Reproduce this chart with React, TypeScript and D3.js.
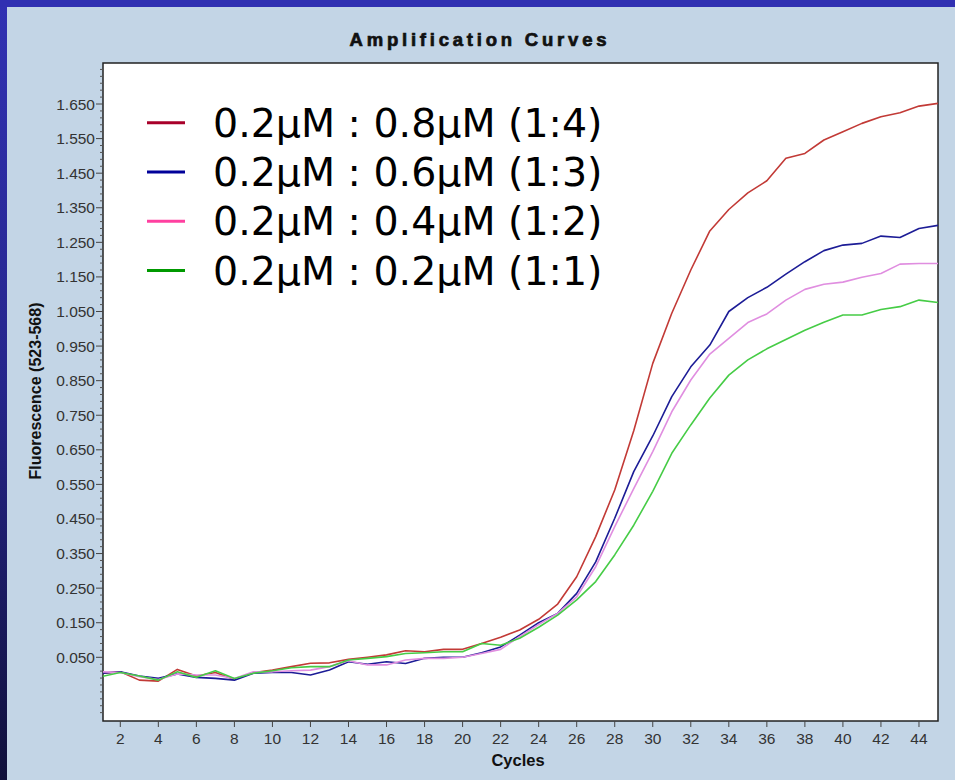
import React, { useEffect } from 'react';
import * as d3 from 'd3';

const cycles = [1,2,3,4,5,6,7,8,9,10,11,12,13,14,15,16,17,18,19,20,21,22,23,24,25,26,27,28,29,30,31,32,33,34,35,36,37,38,39,40,41,42,43,44,45];

const ratio14 = [0.004,0.008,-0.016,-0.019,0.015,-0.004,0.006,-0.014,0.006,0.013,0.023,0.033,0.034,0.044,0.050,0.057,0.069,0.066,0.073,0.073,0.090,0.108,0.129,0.160,0.204,0.283,0.399,0.534,0.705,0.900,1.045,1.170,1.283,1.345,1.393,1.428,1.493,1.507,1.546,1.570,1.594,1.613,1.625,1.644,1.652];
const ratio13 = [0.004,0.008,-0.004,-0.011,0.002,-0.008,-0.011,-0.016,0.004,0.006,0.006,-0.001,0.013,0.037,0.030,0.037,0.032,0.047,0.050,0.050,0.063,0.080,0.114,0.150,0.177,0.235,0.326,0.452,0.587,0.690,0.804,0.890,0.953,1.050,1.090,1.120,1.158,1.194,1.226,1.242,1.247,1.268,1.264,1.290,1.299];
const ratio12 = [0.008,0.006,-0.006,-0.014,0.002,-0.001,-0.001,-0.011,0.008,0.008,0.011,0.013,0.023,0.040,0.028,0.028,0.042,0.047,0.047,0.050,0.061,0.073,0.110,0.145,0.177,0.225,0.312,0.428,0.538,0.645,0.760,0.852,0.927,0.972,1.018,1.043,1.083,1.114,1.129,1.135,1.149,1.160,1.187,1.189,1.189];
const ratio11 = [-0.006,0.006,-0.004,-0.016,0.008,-0.008,0.011,-0.011,0.004,0.011,0.020,0.023,0.023,0.042,0.047,0.052,0.061,0.063,0.066,0.066,0.090,0.085,0.105,0.137,0.172,0.216,0.269,0.346,0.432,0.530,0.640,0.722,0.800,0.866,0.910,0.942,0.969,0.996,1.019,1.040,1.040,1.056,1.064,1.083,1.076];

const seriesNames = ['0.2μM : 0.8μM (1:4)', '0.2μM : 0.6μM (1:3)', '0.2μM : 0.4μM (1:2)', '0.2μM : 0.2μM (1:1)'];
const seriesValues = [ratio14, ratio13, ratio12, ratio11];
const curveColors = ['#c23a36', '#1c1c96', '#e08ee0', '#46cc46'];
const legendColors = ['#a8002a', '#000099', '#ff40a0', '#009900'];

const yTickValues = [0.05,0.15,0.25,0.35,0.45,0.55,0.65,0.75,0.85,0.95,1.05,1.15,1.25,1.35,1.45,1.55,1.65];
const yTickLabels = ['0.050','0.150','0.250','0.350','0.450','0.550','0.650','0.750','0.850','0.950','1.050','1.150','1.250','1.350','1.450','1.550','1.650'];
const xTickValues = [2,4,6,8,10,12,14,16,18,20,22,24,26,28,30,32,34,36,38,40,42,44];

const W = 955, H = 780;
const P = { left: 103, right: 938, top: 63, bottom: 721 };

export default function App() {
  useEffect(() => { document.body.style.margin = '0'; }, []);
  const x = d3.scaleLinear().domain([1.09, 45.0]).range([P.left, P.right]);
  const y = d3.scaleLinear().domain([-0.1342, 1.7686]).range([P.bottom, P.top]);
  const line = d3.line<number>().x((_, i) => x(cycles[i])).y(d => y(d));
  const minor = d3.range(-0.11, 1.76, 0.02).filter(v => !yTickValues.some(t => Math.abs(t - v) < 0.001));
  const axisFont = '"Liberation Sans", Arial, sans-serif';

  return (
    <svg width={W} height={H} style={{ position: 'absolute', left: 0, top: 0, display: 'block' }}>
      <defs>
        <linearGradient id="frameGrad" x1="0" y1="0" x2="0" y2="1">
          <stop offset="0" stopColor="#3131b3" />
          <stop offset="0.5" stopColor="#25258a" />
          <stop offset="1" stopColor="#10103a" />
        </linearGradient>
        <clipPath id="plotClip">
          <rect x={P.left} y={P.top} width={P.right - P.left} height={P.bottom - P.top} />
        </clipPath>
      </defs>
      <rect x={0} y={0} width={W} height={H} fill="url(#frameGrad)" />
      <rect x={0} y={0} width={W} height={7} fill="#3030b2" />
      <rect x={7} y={7} width={W - 7} height={H - 7} fill="#c3d5e6" />

      <text x={478} y={46} textAnchor="middle" fontFamily={axisFont} fontWeight="bold" fontSize={18.5}
        textLength={257} lengthAdjust="spacing" fill="#111" stroke="#111" strokeWidth={0.7}>Amplification Curves</text>

      <rect x={P.left} y={P.top} width={P.right - P.left} height={P.bottom - P.top} fill="#ffffff" stroke="#222" strokeWidth={1.5} />

      {/* y axis ticks */}
      {yTickValues.map((v, i) => (
        <g key={'yt' + i}>
          <line x1={P.left - 7} x2={P.left} y1={y(v)} y2={y(v)} stroke="#444" strokeWidth={1} />
          <text x={P.left - 8} y={y(v) + 5.5} textAnchor="end" fontFamily={axisFont} fontSize={15.5} fill="#333">{yTickLabels[i]}</text>
        </g>
      ))}
      {minor.map((v, i) => (
        <line key={'ym' + i} x1={P.left - 3} x2={P.left} y1={y(v)} y2={y(v)} stroke="#555" strokeWidth={1} />
      ))}

      {/* x axis ticks */}
      {xTickValues.map((c, i) => (
        <g key={'xt' + i}>
          <line x1={x(c)} x2={x(c)} y1={P.bottom} y2={P.bottom + 6} stroke="#444" strokeWidth={1} />
          <text x={x(c)} y={744} textAnchor="middle" fontFamily={axisFont} fontSize={15.5} fill="#333">{c}</text>
        </g>
      ))}

      <text x={518} y={766} textAnchor="middle" fontFamily={axisFont} fontWeight="bold" fontSize={16.5} fill="#111">Cycles</text>
      <text transform="translate(41,391) rotate(-90)" textAnchor="middle" fontFamily={axisFont} fontWeight="bold" fontSize={16} fill="#111">Fluorescence (523-568)</text>

      {/* curves */}
      <g clipPath="url(#plotClip)">
        {seriesValues.map((vals, i) => (
          <path key={'s' + i} d={line(vals) || ''} fill="none" stroke={curveColors[i]} strokeWidth={1.6} strokeLinejoin="round" />
        ))}
      </g>

      {/* legend */}
      {seriesNames.map((name, i) => {
        const ly = 122.7 + i * 49.3;
        return (
          <g key={'lg' + i}>
            <line x1={147} x2={185} y1={ly} y2={ly} stroke={legendColors[i]} strokeWidth={3} />
            <text x={213} y={ly + 14} fontFamily='"DejaVu Sans", Verdana, sans-serif' fontSize={39.5} fill="#000">{name}</text>
          </g>
        );
      })}
    </svg>
  );
}
